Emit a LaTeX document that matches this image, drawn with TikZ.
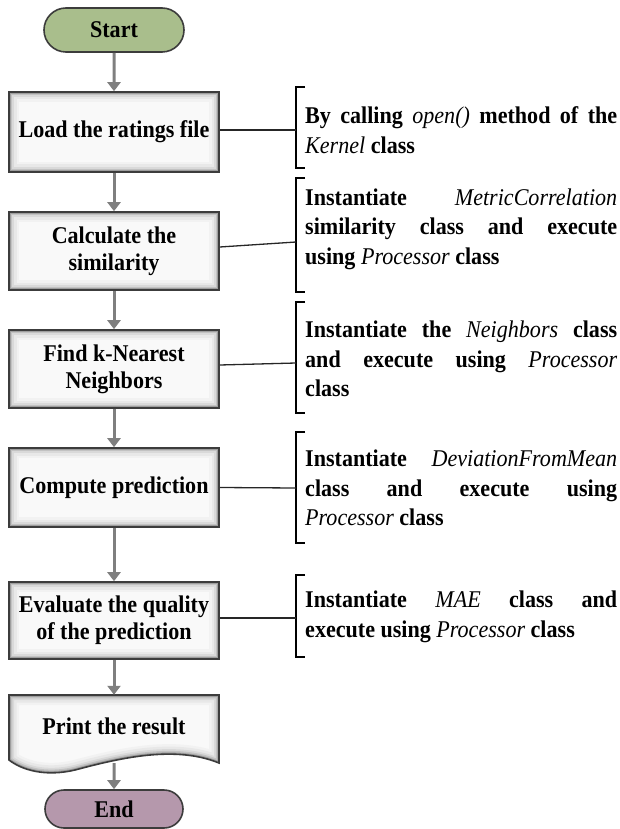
\documentclass[tikz,border=0pt]{standalone}
\usepackage{fontspec}
\setmainfont[FakeStretch=0.92]{Liberation Serif}
\usetikzlibrary{arrows.meta,shapes.misc}
\definecolor{startgreen}{HTML}{A9BE8C}
\definecolor{endmauve}{HTML}{B598AC}
\definecolor{arrowgray}{HTML}{7F7F7F}
\definecolor{borderdark}{HTML}{3C3C3C}
\newcommand{\ital}[1]{{\mdseries\itshape #1}}
\tikzset{
  glow/.style={path picture={
    \foreach \w/\c in {20/5,15/9,10/15,6.5/24,3.5/38}{
      \draw[black!\c,line width=\w pt] (path picture bounding box.north west) rectangle (path picture bounding box.south east);}}},
  procbox/.style={rectangle, minimum width=210pt, minimum height=#1, inner sep=0pt,
    fill=gray!5, draw=borderdark, line width=1.6pt, glow, align=center,
    font=\fontsize{24}{27}\selectfont\bfseries},
  termnode/.style={rounded rectangle, minimum width=140pt, minimum height=#1, inner sep=0pt,
    draw=borderdark, line width=1.6pt, font=\fontsize{24}{27}\selectfont\bfseries},
  flow/.style={draw=arrowgray, line width=3pt, -{Triangle[width=13pt,length=9pt]}},
  bracketline/.style={draw=black, line width=1.4pt},
  linkline/.style={draw=black!85, line width=1.3pt},
  note/.style={anchor=west, text width=312pt, align=justify, inner sep=0pt,
    font=\fontsize{24}{29.5}\selectfont\bfseries},
}
\begin{document}
\begin{tikzpicture}[x=1pt,y=-1pt]
\useasboundingbox (0,0) rectangle (620,829);
% flow nodes
\node[termnode=44pt, fill=startgreen] (start) at (114,30) {Start};
\node[procbox=80pt] (load) at (114,132) {Load the ratings file};
\node[procbox=78pt] (calc) at (114,251) {Calculate the\\similarity};
\node[procbox=78pt] (knn) at (114,369) {Find k-Nearest\\Neighbors};
\node[procbox=79pt] (pred) at (114,487.5) {Compute prediction};
\node[procbox=77pt] (eval) at (114,620.5) {Evaluate the quality\\of the prediction};
% document shape
\begin{scope}
\clip (9,695) -- (219,695) -- (219,763) .. controls (175,745) and (120,758) .. (75,770) .. controls (45,777) and (22,770) .. (9,760) -- cycle;
\fill[gray!5] (9,695) rectangle (219,780);
\foreach \w/\c in {20/5,15/9,10/15,6.5/24,3.5/38}{
  \draw[black!\c,line width=\w pt] (9,695) -- (219,695) -- (219,763) .. controls (175,745) and (120,758) .. (75,770) .. controls (45,777) and (22,770) .. (9,760) -- cycle;}
\end{scope}
\draw[draw=borderdark,line width=1.6pt] (9,695) -- (219,695) -- (219,763) .. controls (175,745) and (120,758) .. (75,770) .. controls (45,777) and (22,770) .. (9,760) -- cycle;
\node[inner sep=0pt, minimum width=210pt, minimum height=68pt, font=\fontsize{24}{27}\selectfont\bfseries] (print) at (114,729) {\raisebox{6pt}{Print the result}};
\node[termnode=38pt, fill=endmauve, minimum width=138pt] (end) at (114,809) {End};
% flow arrows
\draw[flow] (start) -- (load);
\draw[flow] (load) -- (calc);
\draw[flow] (calc) -- (knn);
\draw[flow] (knn) -- (pred);
\draw[flow] (pred) -- (eval);
\draw[flow] (eval) -- (print);
\draw[flow] (print.south) -- (end);
% brackets (name / top / bottom / attachment y)
\foreach \n/\t/\b/\m in {b1/87/168/130, b2/178/292/242, b3/302/413/363, b4/432/543/488, b5/575/657/618}{
  \coordinate (\n top) at (305,\t);
  \coordinate (\n bot) at (305,\b);
  \coordinate (\n) at (296,\m);
  \draw[bracketline] (\n top) -- (296,\t) -- (296,\b) -- (\n bot);
}
% links
\draw[linkline] (load.east |- 0,130) -- (b1);
\draw[linkline] (calc.east |- 0,247) -- (b2);
\draw[linkline] (knn.east |- 0,365) -- (b3);
\draw[linkline] (pred.east) -- (b4);
\draw[linkline] (eval.east |- 0,618) -- (b5);
% notes
\node[note] (n1) at (305,130) {By calling \ital{open()} method of the\linebreak \ital{Kernel} class};
\node[note] (n2) at (305,229) {Instantiate \ital{MetricCorrelation}\linebreak similarity class and execute\linebreak using \ital{Processor} class};
\node[note] (n3) at (305,359) {Instantiate the \ital{Neighbors} class\linebreak and execute using \ital{Processor}\linebreak class};
\node[note] (n4) at (305,488) {Instantiate \ital{DeviationFromMean}\linebreak class and execute using\linebreak \ital{Processor} class};
\node[note] (n5) at (305,617) {Instantiate \ital{MAE} class and\linebreak execute using \ital{Processor} class};
\end{tikzpicture}
\end{document}
